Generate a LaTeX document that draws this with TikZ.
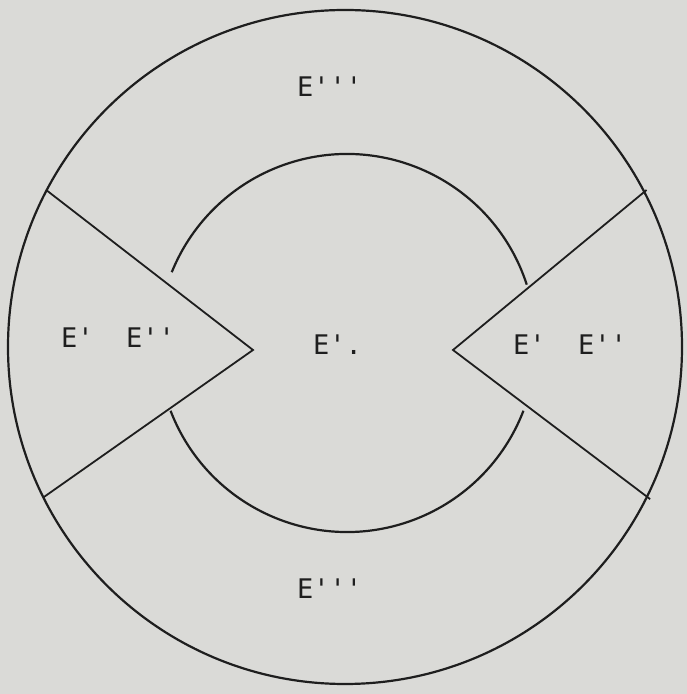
\documentclass[tikz,border=0pt]{standalone}
\usepackage{fontspec}
\newfontfamily\typewriter{DejaVu Sans Mono}
\usetikzlibrary{calc}
\definecolor{paper}{RGB}{218,218,215}
\definecolor{ink}{RGB}{30,30,30}
\newcommand\prm{\textquotesingle}
\tikzset{
  ring/.style = {draw=ink, line width=2.2pt},
  wedge/.style = {draw=ink, line width=1.8pt, line join=miter},
  ringtext/.style = {
    anchor=base west, inner sep=0pt, text=ink,
    font=\typewriter\fontsize{27}{32}\selectfont
  }
}

\begin{document}
\begin{tikzpicture}[x=1pt, y=1pt]
  % Page
  \fill[paper] (0,0) rectangle (687,694);
  \useasboundingbox (0,0) rectangle (687,694);

  % Centres
  \coordinate (O) at (345,347);
  \coordinate (I) at (347,351);

  % Outer circle
  \draw[ring] (O) circle[radius=337];

  % Inner arcs
  \draw[ring] ([shift={(18:189)}]I) arc[start angle=18, end angle=158, radius=189];
  \draw[ring] ([shift={(201:189)}]I) arc[start angle=201, end angle=339, radius=189];

  % Wedges
  \coordinate (LU) at ($(O)+(152.3:337)$);
  \coordinate (LD) at ($(O)+(206.5:337)$);
  \coordinate (LA) at (253,344);
  \coordinate (RU) at ($(O)+(27.5:340)$);
  \coordinate (RD) at ($(O)+(-26.5:341)$);
  \coordinate (RA) at (453,344);
  \draw[wedge] (LU) -- (LA) -- (LD);
  \draw[wedge] (RU) -- (RA) -- (RD);

  % Labels
  \node[ringtext] (top)    at (297,597) {E\prm\prm\prm};
  \node[ringtext] (bottom) at (297,95)  {E\prm\prm\prm};
  \node[ringtext] (left)   at (61,346)  {E\prm~~E\prm\prm};
  \node[ringtext] (middle) at (313,339) {E\prm.};
  \node[ringtext] (right)  at (513,339) {E\prm~~E\prm\prm};
\end{tikzpicture}
\end{document}
